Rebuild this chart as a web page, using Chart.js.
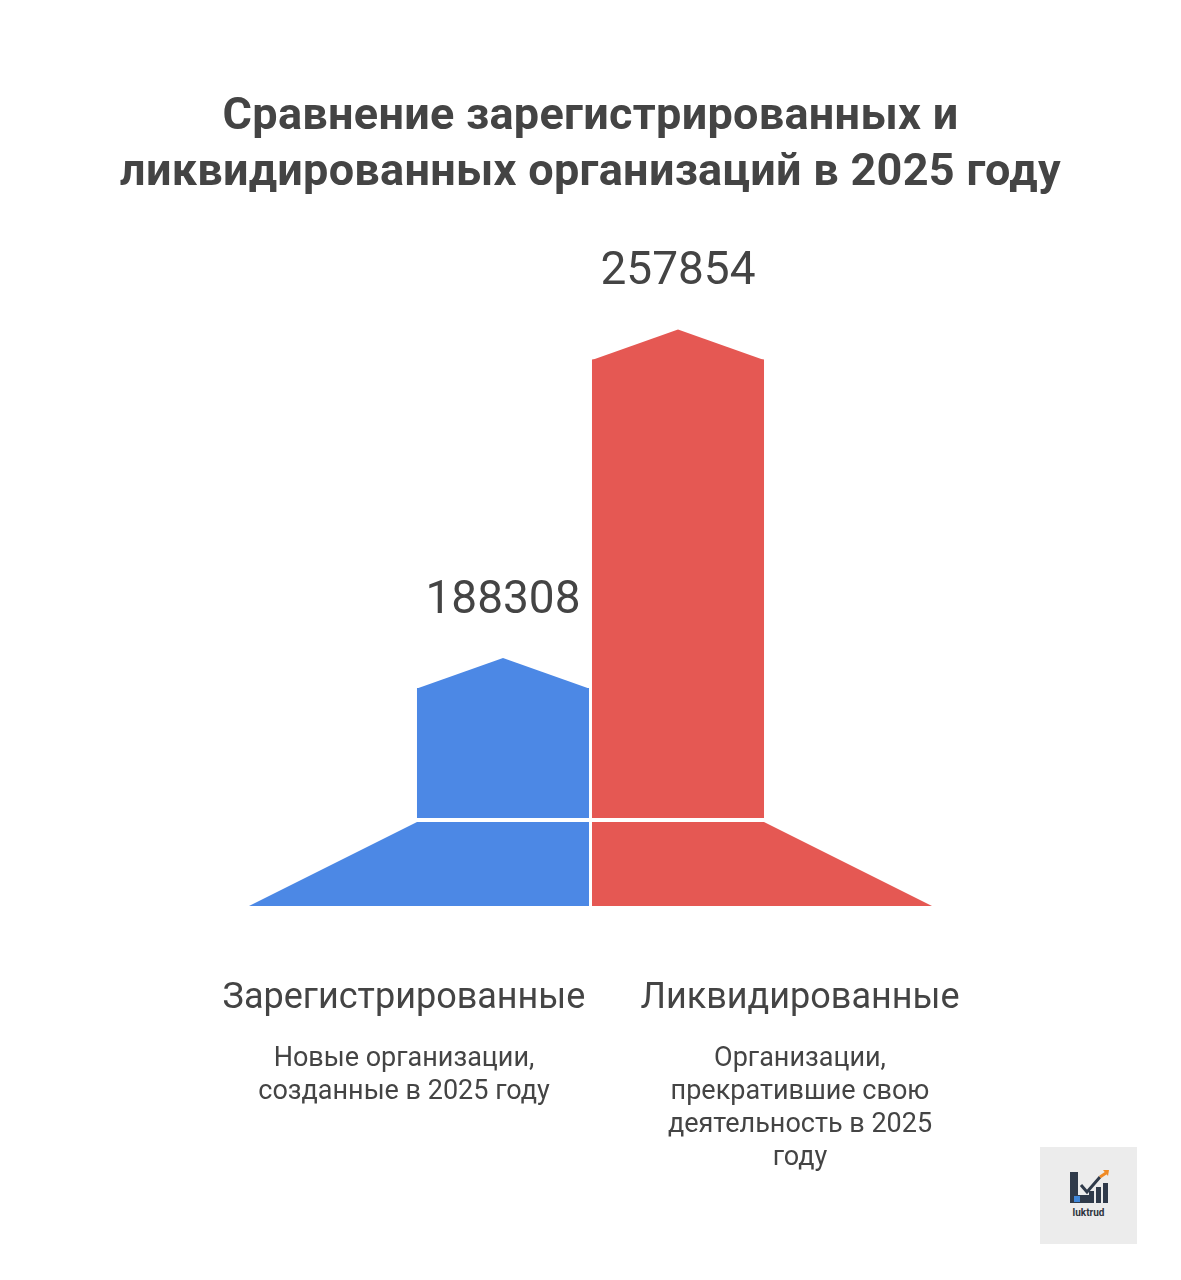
<!DOCTYPE html>
<html lang="ru">
<head>
<meta charset="utf-8">
<title>Сравнение зарегистрированных и ликвидированных организаций в 2025 году</title>
<script src="https://cdn.jsdelivr.net/npm/chart.js@4.4.1/dist/chart.umd.min.js"></script>
<style>
  html, body { margin: 0; padding: 0; background: #fff; }
  body { width: 1181px; height: 1280px; position: relative; overflow: hidden; font-family: Roboto, "Noto Sans", sans-serif; color: #444; }
  #chart { position: absolute; left: 0; top: 0; }
  .title { position: absolute; left: 0; top: 86px; width: 1181px; text-align: center; font-weight: 700; font-size: 45px; line-height: 56px; letter-spacing: 0.3px; }
  .col { position: absolute; width: 420px; text-align: center; }
  .col .name { position: absolute; top: 975px; width: 100%; font-size: 36px; line-height: 42px; }
  .col .desc { position: absolute; top: 1041px; width: 100%; font-size: 27px; line-height: 33px; }
  .logo { position: absolute; left: 1040px; top: 1147px; width: 97px; height: 97px; background: #ececec; }
  .logo span { position: absolute; left: 0; top: 60px; width: 97px; text-align: center; font-size: 10px; font-weight: 700; color: #2f3540; }
</style>
</head>
<body>
<canvas id="chart" width="1181" height="1280"></canvas>

<div class="title">Сравнение зарегистрированных и<br>ликвидированных организаций в 2025 году</div>

<div class="col" style="left:194px">
  <div class="name">Зарегистрированные</div>
  <div class="desc">Новые организации,<br>созданные в 2025 году</div>
</div>
<div class="col" style="left:590px">
  <div class="name">Ликвидированные</div>
  <div class="desc">Организации,<br>прекратившие свою<br>деятельность в 2025<br>году</div>
</div>

<div class="logo">
  <svg width="97" height="60" viewBox="0 0 97 60" style="position:absolute;left:0;top:0">
    <rect x="30" y="25" width="8" height="31" fill="#2f3a4a"/>
    <rect x="30" y="48" width="23" height="8" fill="#2f3a4a"/>
    <rect x="34" y="49" width="6" height="6" fill="#3f86d8"/>
    <rect x="49" y="44" width="5" height="12" fill="#2f3a4a"/>
    <rect x="56" y="40" width="5" height="16" fill="#2f3a4a"/>
    <rect x="63" y="36" width="5" height="20" fill="#2f3a4a"/>
    <polyline points="41,38 47,45 60,30" fill="none" stroke="#2f3a4a" stroke-width="3"/>
    <polyline points="60,30 66,26" fill="none" stroke="#f08a24" stroke-width="3"/>
    <polygon points="63,23 69,23 68,29" fill="#f08a24"/>
  </svg>
  <span>luktrud</span>
</div>

<script>
const categories = ['Зарегистрированные', 'Ликвидированные'];
const values = [188308, 257854];
const colors = ['#4C88E5', '#E55853'];

// остриё над столбцом, подпись значения и основание-трапеция
const housePlugin = {
  id: 'house',
  afterDatasetsDraw(chart) {
    const ctx = chart.ctx;
    const meta = chart.getDatasetMeta(0);
    const bottom = chart.chartArea.bottom;
    const roof = 30, gap = 4, baseH = 84;
    meta.data.forEach((bar, i) => {
      const l = bar.x - bar.width / 2, r = bar.x + bar.width / 2;
      ctx.save();
      ctx.fillStyle = colors[i];
      // крыша
      ctx.beginPath();
      ctx.moveTo(l, bar.y + 0.5);
      ctx.lineTo(bar.x, bar.y - roof);
      ctx.lineTo(r, bar.y + 0.5);
      ctx.closePath();
      ctx.fill();
      // основание
      const top = bottom + gap, bot = top + baseH;
      ctx.beginPath();
      ctx.moveTo(l, top);
      ctx.lineTo(r, top);
      if (i === 0) {
        ctx.lineTo(r, bot);
        ctx.lineTo(l - baseH * 2, bot);
      } else {
        ctx.lineTo(r + baseH * 2, bot);
        ctx.lineTo(l, bot);
      }
      ctx.closePath();
      ctx.fill();
      // значение
      ctx.fillStyle = '#444';
      ctx.font = '46px Roboto';
      ctx.textAlign = 'center';
      ctx.textBaseline = 'alphabetic';
      ctx.fillText(String(values[i]), bar.x, bar.y - roof - 45);
      ctx.restore();
    });
  }
};

new Chart(document.getElementById('chart'), {
  type: 'bar',
  data: {
    labels: categories,
    datasets: [{
      data: values,
      backgroundColor: colors,
      borderWidth: 0,
      barPercentage: 1,
      categoryPercentage: 0.983
    }]
  },
  options: {
    responsive: false,
    animation: false,
    layout: { padding: { left: 415.5, right: 415.5, top: 302, bottom: 462 } },
    scales: {
      x: { display: false },
      y: { display: false, min: 160830, max: 270000 }
    },
    plugins: {
      legend: { display: false },
      tooltip: { enabled: false }
    }
  },
  plugins: [housePlugin]
});
</script>
</body>
</html>
